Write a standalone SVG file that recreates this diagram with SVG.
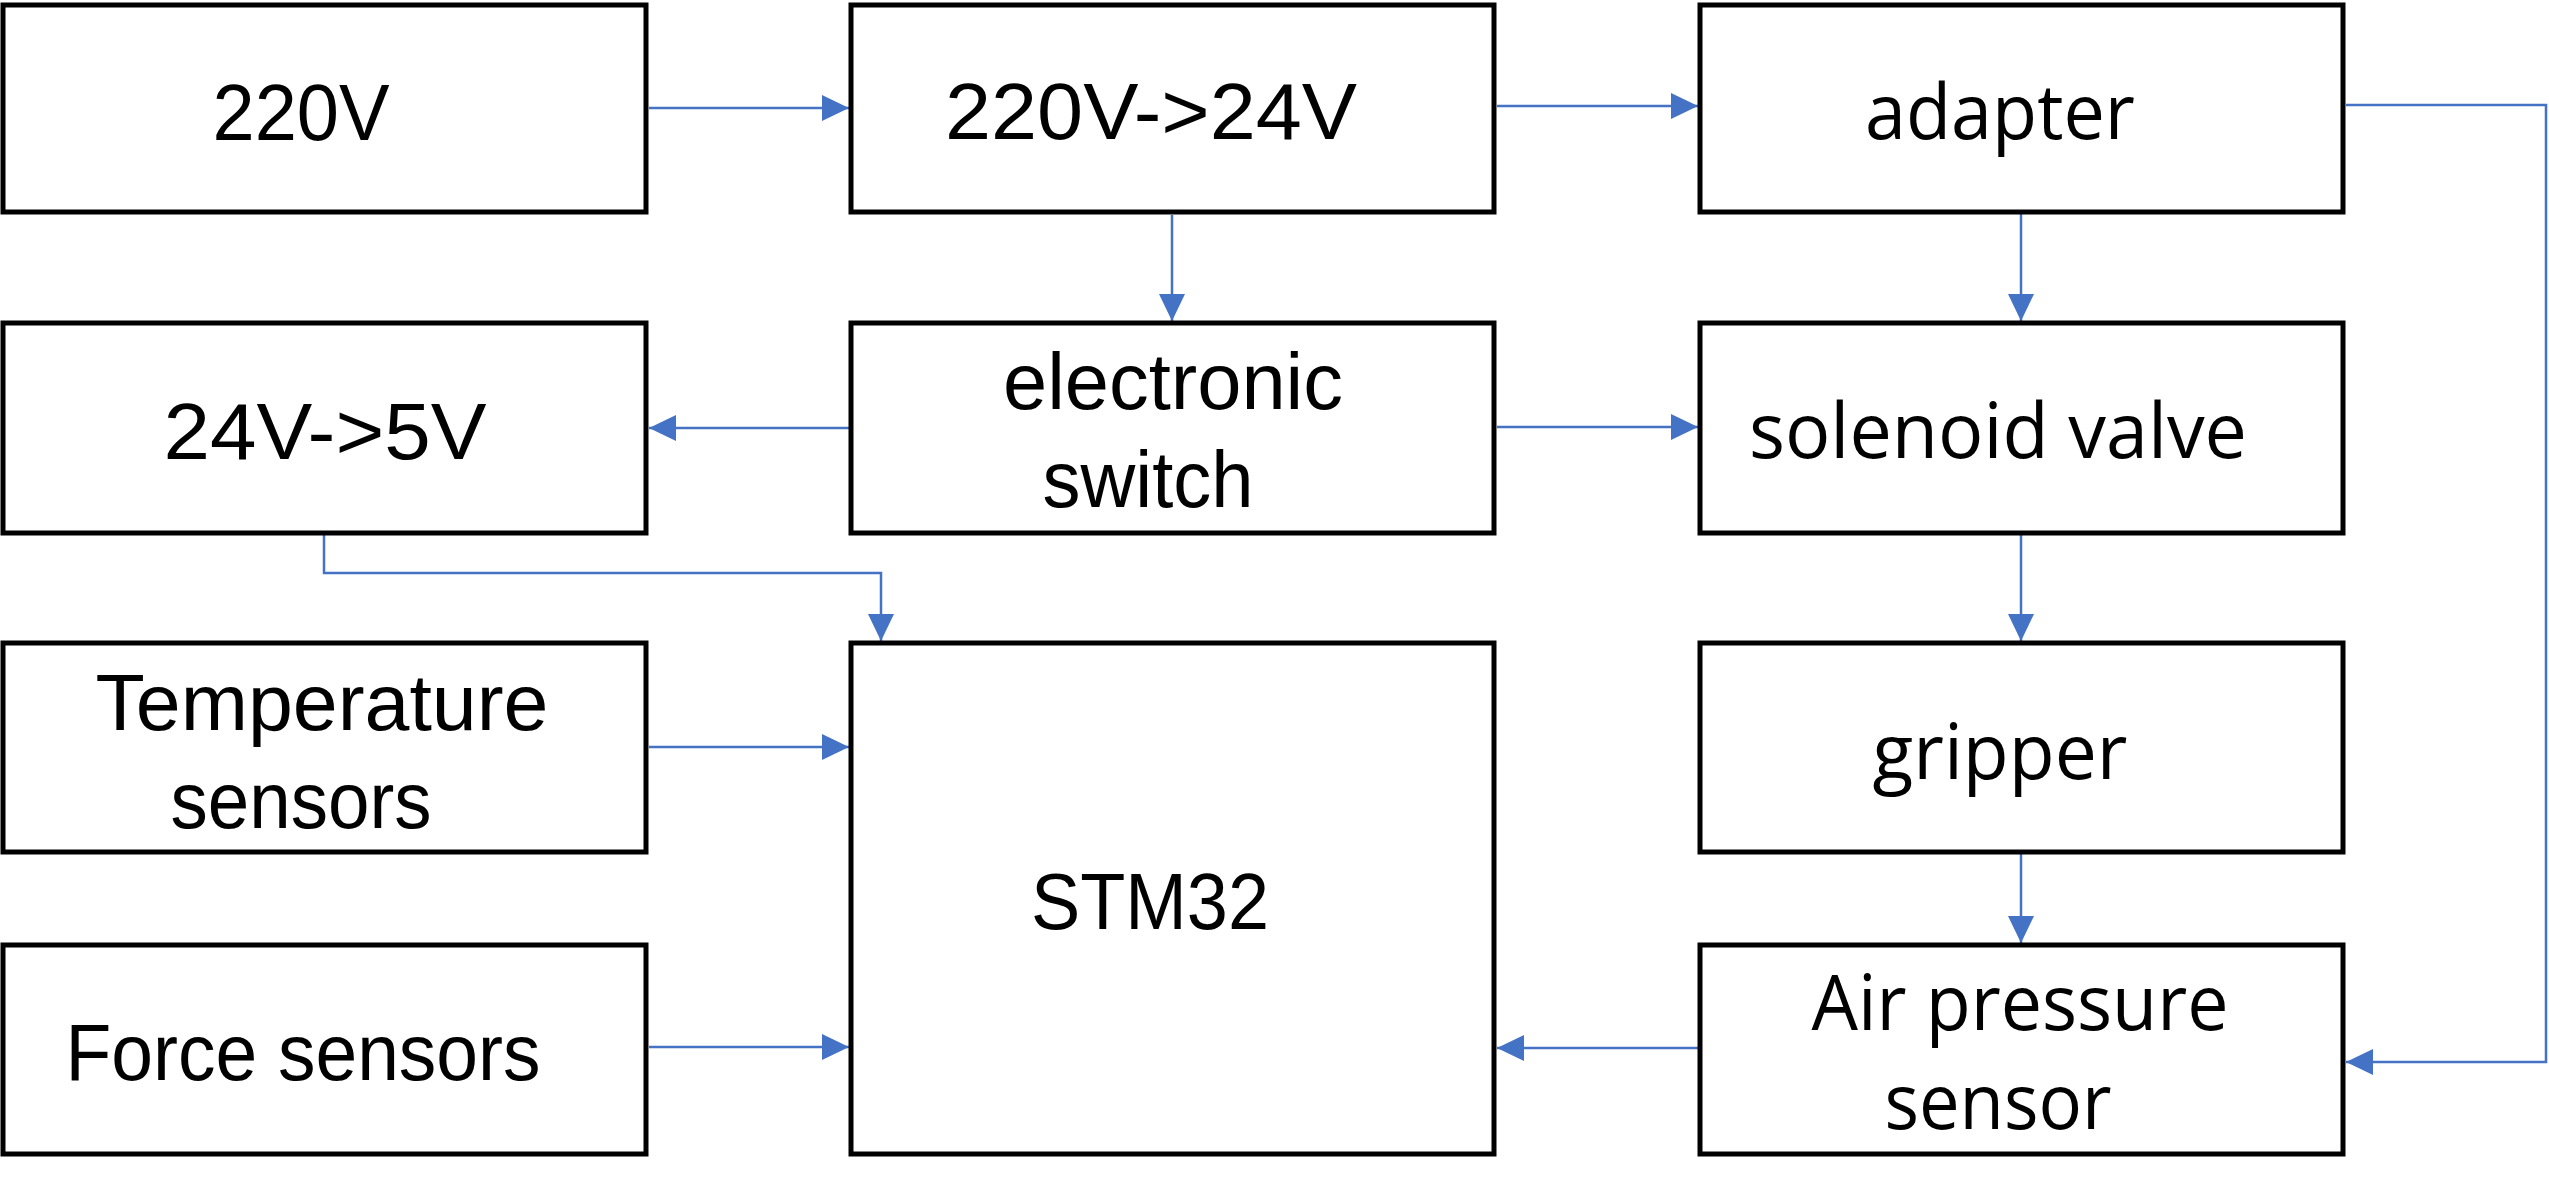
<svg xmlns="http://www.w3.org/2000/svg" width="2549" height="1198" viewBox="0 0 2549 1198">
<style>
.box{fill:#fff;stroke:#000;stroke-width:5}
.t{font-family:"Liberation Sans",Arial,sans-serif;font-size:80px;fill:#000;text-anchor:middle}
.r{font-family:"Open Sans","Noto Sans",sans-serif;font-size:76px;fill:#000;text-anchor:middle}
.c{fill:none;stroke:#4472C4;stroke-width:2.5}
</style>
<defs>
<marker id="ah" viewBox="0 0 27 26" refX="27" refY="13" markerWidth="27" markerHeight="26" markerUnits="userSpaceOnUse" orient="auto">
<path d="M0 0 L27 13 L0 26 Z" fill="#4472C4"/>
</marker>
</defs>
<rect width="2549" height="1198" fill="#fff"/>
<g id="connectors">
<path class="c" marker-end="url(#ah)" d="M649 108 H849"/>
<path class="c" marker-end="url(#ah)" d="M1497 106 H1698"/>
<path class="c" marker-end="url(#ah)" d="M1172 215 V321"/>
<path class="c" marker-end="url(#ah)" d="M849 428 H649"/>
<path class="c" marker-end="url(#ah)" d="M1497 427 H1698"/>
<path class="c" marker-end="url(#ah)" d="M324 535 V573 H881 V641"/>
<path class="c" marker-end="url(#ah)" d="M2021 214 V321"/>
<path class="c" marker-end="url(#ah)" d="M2021 535 V641"/>
<path class="c" marker-end="url(#ah)" d="M2021 854 V943"/>
<path class="c" marker-end="url(#ah)" d="M2346 105 H2546 V1062 H2346"/>
<path class="c" marker-end="url(#ah)" d="M649 747 H849"/>
<path class="c" marker-end="url(#ah)" d="M649 1047 H849"/>
<path class="c" marker-end="url(#ah)" d="M1698 1048 H1497"/>
</g>
<g id="n220v"><rect class="box" x="3" y="5" width="643" height="207"/><text class="t" x="301" y="140" textLength="177" lengthAdjust="spacingAndGlyphs">220V</text></g>
<g id="n220to24"><rect class="box" x="851" y="5" width="643" height="207"/><text class="t" x="1151" y="139" textLength="412" lengthAdjust="spacingAndGlyphs">220V-&gt;24V</text></g>
<g id="adapter"><rect class="box" x="1700" y="5" width="643" height="207"/><text class="r" x="2000" y="139" textLength="270" lengthAdjust="spacingAndGlyphs">adapter</text></g>
<g id="n24to5"><rect class="box" x="3" y="323" width="643" height="210"/><text class="t" x="325" y="459" textLength="323" lengthAdjust="spacingAndGlyphs">24V-&gt;5V</text></g>
<g id="eswitch"><rect class="box" x="851" y="323" width="643" height="210"/><text class="t" x="1173" y="409" textLength="340" lengthAdjust="spacingAndGlyphs">electronic</text><text class="t" x="1148" y="507" textLength="211" lengthAdjust="spacingAndGlyphs">switch</text></g>
<g id="solenoid"><rect class="box" x="1700" y="323" width="643" height="210"/><text class="r" x="1998" y="458" textLength="498" lengthAdjust="spacingAndGlyphs">solenoid valve</text></g>
<g id="temp"><rect class="box" x="3" y="643" width="643" height="209"/><text class="t" x="322" y="730" textLength="453" lengthAdjust="spacingAndGlyphs">Temperature</text><text class="t" x="301" y="828" textLength="261" lengthAdjust="spacingAndGlyphs">sensors</text></g>
<g id="stm32"><rect class="box" x="851" y="643" width="643" height="511"/><text class="t" x="1150" y="929" textLength="238" lengthAdjust="spacingAndGlyphs">STM32</text></g>
<g id="gripper"><rect class="box" x="1700" y="643" width="643" height="209"/><text class="r" x="2000" y="779" textLength="255" lengthAdjust="spacingAndGlyphs">gripper</text></g>
<g id="force"><rect class="box" x="3" y="945" width="643" height="209"/><text class="t" x="303" y="1080" textLength="475" lengthAdjust="spacingAndGlyphs">Force sensors</text></g>
<g id="airp"><rect class="box" x="1700" y="945" width="643" height="209"/><text class="r" x="2020" y="1030" textLength="417" lengthAdjust="spacingAndGlyphs">Air pressure</text><text class="r" x="1998" y="1129" textLength="227" lengthAdjust="spacingAndGlyphs">sensor</text></g>
</svg>
